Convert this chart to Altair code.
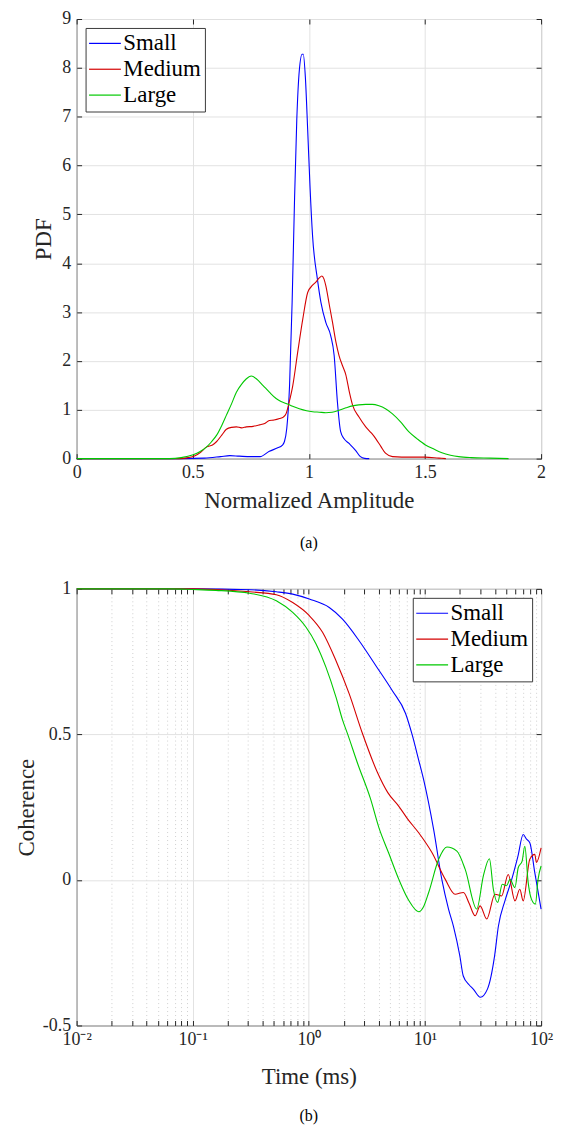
import altair as alt
import pandas as pd

SERIES = ["Small", "Medium", "Large"]
COLORS = ["#0000ff", "#d40000", "#00c800"]

# ---------------- (a) PDF of normalized amplitude ----------------
small_amp = [0, 0.45, 0.55, 0.62, 0.66, 0.70, 0.75, 0.79, 0.83, 0.866, 0.885, 0.895, 0.905,
             0.917, 0.928, 0.938, 0.948, 0.959, 0.971, 0.976, 0.985, 0.995, 1.005, 1.016,
             1.037, 1.052, 1.073, 1.094, 1.109, 1.123, 1.137, 1.151, 1.173, 1.201, 1.222,
             1.24, 1.26]
small_pdf = [0, 0, 0.01, 0.04, 0.06, 0.05, 0.04, 0.04, 0.15, 0.22, 0.27, 0.35, 0.62,
             1.5, 3.2, 5.23, 6.93, 7.95, 8.28, 8.28, 7.81, 6.73, 5.57, 4.56,
             3.67, 3.2, 2.79, 2.52, 2.11, 1.16, 0.55, 0.41, 0.31, 0.17, 0.04,
             0.005, 0]

medium_amp = [0, 0.44, 0.48, 0.51, 0.531, 0.56, 0.585, 0.603, 0.625, 0.645, 0.667, 0.688,
              0.71, 0.731, 0.76, 0.788, 0.81, 0.83, 0.85, 0.874, 0.89, 0.902, 0.915, 0.931,
              0.952, 0.974, 0.995, 1.016, 1.031, 1.045, 1.056, 1.065, 1.073, 1.088, 1.102,
              1.116, 1.13, 1.145, 1.159, 1.175, 1.188, 1.216, 1.245, 1.27, 1.288, 1.31,
              1.33, 1.36, 1.40, 1.50, 1.56, 1.59]
medium_pdf = [0, 0, 0.02, 0.06, 0.12, 0.24, 0.28, 0.35, 0.48, 0.6, 0.64, 0.65,
              0.63, 0.65, 0.66, 0.69, 0.72, 0.78, 0.79, 0.82, 0.85, 0.92, 1.15, 1.5,
              2.18, 2.86, 3.4, 3.55, 3.62, 3.7, 3.74, 3.68, 3.54, 3.15, 2.79,
              2.4, 2.11, 1.9, 1.72, 1.35, 1.1, 0.85, 0.65, 0.52, 0.41, 0.25,
              0.11, 0.04, 0.03, 0.03, 0.01, 0]

large_amp = [0, 0.40, 0.45, 0.502, 0.53, 0.56, 0.58, 0.603, 0.625, 0.645, 0.667, 0.688,
             0.71, 0.73, 0.752, 0.775, 0.802, 0.83, 0.859, 0.88, 0.902, 0.93, 0.959, 0.99,
             1.016, 1.045, 1.073, 1.10, 1.13, 1.16, 1.188, 1.215, 1.245, 1.273, 1.302,
             1.33, 1.359, 1.395, 1.43, 1.465, 1.502, 1.54, 1.573, 1.61, 1.645, 1.70,
             1.78, 1.86]
large_pdf = [0, 0, 0.02, 0.08, 0.14, 0.24, 0.34, 0.48, 0.68, 0.89, 1.12, 1.36,
             1.52, 1.63, 1.69, 1.63, 1.5, 1.36, 1.23, 1.17, 1.13, 1.07, 1.02, 0.98,
             0.96, 0.95, 0.94, 0.95, 0.99, 1.04, 1.08, 1.1, 1.11, 1.11, 1.08,
             1.02, 0.92, 0.75, 0.55, 0.41, 0.28, 0.19, 0.12, 0.07, 0.04, 0.02,
             0.01, 0]

amp_ticks = [0, 0.5, 1, 1.5, 2]
pdf_ticks = [0, 1, 2, 3, 4, 5, 6, 7, 8, 9]

# ---------------- (b) coherence vs time (log10 of ms) ----------------
small_logt = [-2, -1, -0.5, -0.28, -0.139, 0.004, 0.176, 0.29, 0.433, 0.576, 0.718, 0.833,
              0.889, 0.946, 0.989, 1.075, 1.146, 1.203, 1.246, 1.3, 1.33, 1.38, 1.416,
              1.477, 1.538, 1.6, 1.632, 1.69, 1.746, 1.8, 1.846, 1.875, 1.903, 1.946, 2]
small_coh = [1, 1, 0.997, 0.99, 0.982, 0.965, 0.936, 0.896, 0.822, 0.737, 0.651, 0.572,
             0.5, 0.412, 0.344, 0.173, 0.0, -0.1, -0.16, -0.26, -0.33, -0.36, -0.375,
             -0.403, -0.375, -0.26, -0.16, -0.07, 0.0, 0.08, 0.156, 0.14, 0.128, 0.025, -0.1]

medium_logt = [-2, -1, -0.8, -0.51, -0.28, -0.139, 0.004, 0.118, 0.233, 0.347, 0.461, 0.59,
               0.68, 0.775, 0.85, 0.946, 1.06, 1.175, 1.26, 1.332, 1.38, 1.432, 1.475,
               1.532, 1.603, 1.66, 1.717, 1.775, 1.817, 1.846, 1.903, 1.946, 1.96, 2]
medium_coh = [1, 1, 0.998, 0.99, 0.98, 0.953, 0.908, 0.851, 0.754, 0.64, 0.504, 0.37,
              0.30, 0.253, 0.21, 0.162, 0.094, 0.002, -0.049, -0.043, -0.08, -0.123, -0.089,
              -0.134, -0.049, -0.055, 0.019, -0.072, -0.032, -0.072, 0.071, 0.088, 0.06, 0.11]

large_logt = [-2, -1.2, -1, -0.8, -0.51, -0.28, -0.139, -0.024, 0.062, 0.147, 0.233, 0.29,
              0.335, 0.42, 0.53, 0.604, 0.69, 0.775, 0.86, 0.946, 0.99, 1.032, 1.118, 1.189,
              1.275, 1.346, 1.446, 1.503, 1.555, 1.589, 1.626, 1.666, 1.703, 1.732, 1.775,
              1.803, 1.837, 1.86, 1.889, 1.917, 1.951, 1.974, 2]
large_coh = [1, 1, 0.998, 0.995, 0.985, 0.959, 0.919, 0.868, 0.811, 0.731, 0.629, 0.55,
             0.5, 0.40, 0.28, 0.179, 0.09, 0.002, -0.07, -0.109, -0.09, -0.043, 0.071, 0.113,
             0.099, 0.037, -0.1, 0.014, 0.073, -0.032, -0.077, -0.015, -0.02, 0.002, -0.026,
             0.042, 0.065, 0.116, -0.009, -0.066, -0.083, 0.002, 0.048]

coh_ticks = [-0.5, 0, 0.5, 1]
time_major = [0.01, 0.1, 1, 10, 100]
time_labels = ["10⁻²", "10⁻¹", "10⁰", "10¹", "10²"]
time_minor = [round(m * d, 6) for d in [0.01, 0.1, 1, 10] for m in range(2, 10)]
time_ticks = sorted(time_major + time_minor)

# ---------------- tables ----------------
rows_a = []
for name, xs, ys in [("Small", small_amp, small_pdf), ("Medium", medium_amp, medium_pdf),
                     ("Large", large_amp, large_pdf)]:
    for i, (x, y) in enumerate(zip(xs, ys)):
        rows_a.append({"series": name, "amp": x, "pdf": y, "idx": i})
df_a = pd.DataFrame(rows_a)

rows_b = []
for name, xs, ys in [("Small", small_logt, small_coh), ("Medium", medium_logt, medium_coh),
                     ("Large", large_logt, large_coh)]:
    for i, (x, y) in enumerate(zip(xs, ys)):
        rows_b.append({"series": name, "time": 10 ** x, "coh": y, "idx": i})
df_b = pd.DataFrame(rows_b)

# ---------------- styling ----------------
FONT = "Liberation Serif, Times New Roman, serif"
INK = "#262626"
GRID = "#e2e2e2"
TICK = 5


def label_axis(**kw):
    base = dict(labelFont=FONT, labelFontSize=18, labelColor=INK, titleFont=FONT,
                titleFontSize=23, titleFontWeight="normal", titleColor=INK, domain=False,
                ticks=True, tickSize=TICK, tickColor=INK, tickWidth=1, offset=-TICK,
                grid=True, gridColor=GRID, gridWidth=1, labelFlush=False)
    base.update(kw)
    return alt.Axis(**base)


def tick_axis(**kw):
    base = dict(labels=False, title=None, domain=False, ticks=True, tickSize=TICK,
                tickColor=INK, tickWidth=1, offset=-TICK, grid=False)
    base.update(kw)
    return alt.Axis(**base)


def legend(orient):
    # a long, flat line symbol: path spans four half-widths of a small square
    return alt.Legend(title=None, orient=orient, offset=9, fillColor="white",
                      strokeColor="#3a3a3a", padding=4, labelFont=FONT, labelFontSize=23,
                      labelColor="black", symbolType="M-2,0L2,0", symbolSize=256,
                      symbolOffset=4, symbolStrokeWidth=1.2, symbolFillColor="transparent",
                      rowPadding=2, labelOffset=7)


def color_enc(orient):
    return alt.Color("series:N", scale=alt.Scale(domain=SERIES, range=COLORS),
                     sort=SERIES, legend=legend(orient))


major_test = "indexof([" + ",".join(str(v) for v in time_major) + "], datum.value) >= 0"
time_expr = " : ".join(f"datum.value == {v} ? '{lab}'" for v, lab in zip(time_major, time_labels)) + " : ''"


def caption(text, offset):
    return alt.TitleParams(text, orient="bottom", font=FONT, fontSize=16,
                           fontWeight="normal", color="black", offset=offset)


# ---------------- (a) ----------------
xs_a = alt.Scale(domain=[0, 2], nice=False)
ys_a = alt.Scale(domain=[0, 9], nice=False)
lines_a = alt.Chart(df_a).mark_line(strokeWidth=1.1, interpolate="monotone").encode(
    x=alt.X("amp:Q", scale=xs_a,
            axis=label_axis(values=amp_ticks, format="~g", title="Normalized Amplitude",
                            labelPadding=5, titlePadding=8)),
    y=alt.Y("pdf:Q", scale=ys_a,
            axis=label_axis(values=pdf_ticks, format="d", title="PDF",
                            labelPadding=6, titlePadding=6)),
    color=color_enc("top-left"),
    order="idx:Q",
)
frame_a = alt.Chart(df_a).mark_line(strokeOpacity=0).encode(
    x=alt.X("amp:Q", scale=xs_a, axis=tick_axis(orient="top", values=amp_ticks)),
    y=alt.Y("pdf:Q", scale=ys_a, axis=tick_axis(orient="right", values=pdf_ticks)),
    detail="series:N",
)
top = alt.layer(lines_a, frame_a).resolve_axis(x="independent", y="independent").properties(
    width=467, height=442, title=caption("(a)", 23))

# ---------------- (b) ----------------
xs_b = alt.Scale(type="log", domain=[0.01, 100], nice=False)
ys_b = alt.Scale(domain=[-0.5, 1], nice=False)
lines_b = alt.Chart(df_b).mark_line(strokeWidth=1.1, interpolate="monotone").encode(
    x=alt.X("time:Q", scale=xs_b,
            axis=label_axis(values=time_ticks, labelExpr=time_expr, title="Time (ms)",
                            labelPadding=5, titlePadding=17,
                            gridDash={"condition": {"test": major_test, "value": []},
                                      "value": [1, 3]},
                            gridColor={"condition": {"test": major_test, "value": GRID},
                                       "value": "#cfcfcf"})),
    y=alt.Y("coh:Q", scale=ys_b,
            axis=label_axis(values=coh_ticks, labelExpr="'' + datum.value",
                            title="Coherence", labelPadding=6, titlePadding=4)),
    color=color_enc("top-right"),
    order="idx:Q",
)
frame_b = alt.Chart(df_b).mark_line(strokeOpacity=0).encode(
    x=alt.X("time:Q", scale=xs_b, axis=tick_axis(orient="top", values=time_ticks)),
    y=alt.Y("coh:Q", scale=ys_b, axis=tick_axis(orient="right", values=coh_ticks)),
    detail="series:N",
)
bottom = alt.layer(lines_b, frame_b).resolve_axis(x="independent", y="independent").properties(
    width=467, height=439, title=caption("(b)", 20))

chart = alt.vconcat(top, bottom, spacing=27).properties(
    padding={"left": 7, "top": -2, "right": 0, "bottom": 0}
).configure_view(stroke=INK, strokeWidth=1)

chart.save("out.html", embed_options={"renderer": "svg", "actions": False})
